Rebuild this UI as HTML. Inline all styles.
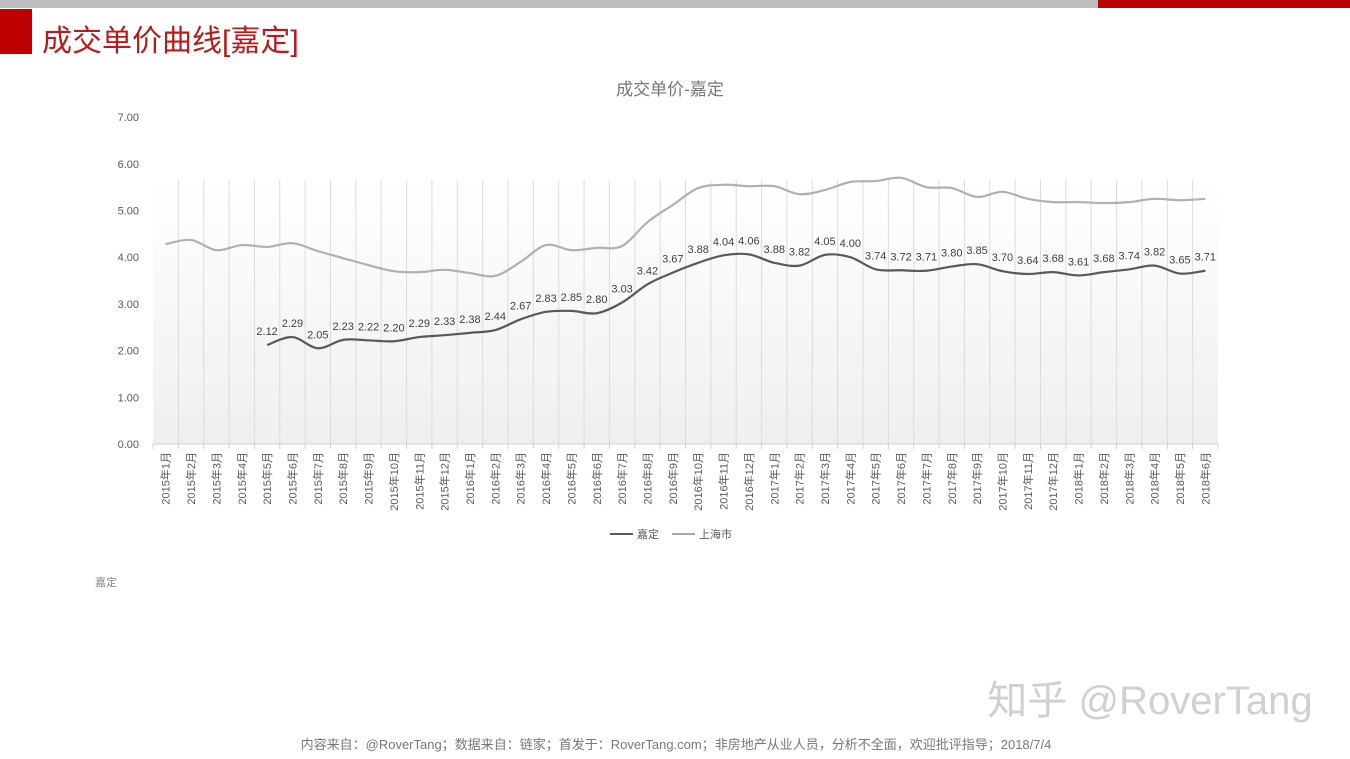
<!DOCTYPE html><html><head><meta charset="utf-8"><style>
body{margin:0;width:1350px;height:759px;overflow:hidden;background:#fff;font-family:"Liberation Sans","Noto Sans CJK SC",sans-serif}
</style></head><body>
<svg id="s" width="1350" height="759" xmlns="http://www.w3.org/2000/svg" style="position:absolute;left:0;top:0">
<defs><linearGradient id="g" x1="0" y1="0" x2="0" y2="1"><stop offset="0" stop-color="#fff"/><stop offset="1" stop-color="#efefef"/></linearGradient></defs>
<rect x="0" y="0" width="1350" height="8" fill="#bdbdbd"/>
<rect x="1098" y="0" width="252" height="8" fill="#c00000"/>
<rect x="0" y="9" width="32" height="45" fill="#c00000"/>
<text x="42" y="51" font-size="30" fill="#b71c1c" font-family="Liberation Sans,Noto Sans CJK SC,sans-serif">成交单价曲线[嘉定]</text>
<text x="670" y="95" font-size="17" fill="#777" text-anchor="middle" font-family="Liberation Sans,Noto Sans CJK SC,sans-serif">成交单价-嘉定</text>
<rect x="153" y="180" width="1065" height="264" fill="url(#g)"/>
<g id="grid"></g><g id="lines"></g>
<g font-size="12" fill="#595959" font-family="Liberation Sans,Noto Sans CJK SC,sans-serif">
<line x1="610" y1="534" x2="633" y2="534" stroke="#595959" stroke-width="2"/><text x="637" y="538" font-size="11">嘉定</text>
<line x1="672" y1="534" x2="695" y2="534" stroke="#aaa" stroke-width="2"/><text x="699" y="538" font-size="11">上海市</text>
<text x="95" y="586" font-size="11" fill="#888">嘉定</text>
</g>
<text x="1150" y="714" font-size="40" fill="#d0d0d0" text-anchor="middle" font-family="Liberation Sans,Noto Sans CJK SC,sans-serif">知乎 @RoverTang</text>
<text x="676" y="749" font-size="13" fill="#777" text-anchor="middle" font-family="Liberation Sans,Noto Sans CJK SC,sans-serif">内容来自：@RoverTang；数据来自：链家；首发于：RoverTang.com；非房地产从业人员，分析不全面，欢迎批评指导；2018/7/4</text>
</svg>
<script>
var NS="http://www.w3.org/2000/svg",s=document.getElementById('s');
function el(t,a,p,txt){var e=document.createElementNS(NS,t);for(var k in a)e.setAttribute(k,a[k]);if(txt!=null)e.textContent=txt;(p||s).appendChild(e);return e;}
var x0=153,W=1065,n=42,cw=W/n,y0=444,ppu=46.7;
function X(i){return x0+cw*(i+0.5)} function Y(v){return y0-v*ppu}
var grid=document.getElementById('grid'),lines=document.getElementById('lines');
for(var i=1;i<n;i++)el('line',{x1:x0+cw*i,x2:x0+cw*i,y1:180,y2:444,stroke:'#dcdcdc','stroke-width':1},grid);
el('line',{x1:x0,x2:x0+W,y1:444,y2:444,stroke:'#d0d0d0'},grid);
for(var i=0;i<=n;i++)el('line',{x1:x0+cw*i,x2:x0+cw*i,y1:444,y2:449,stroke:'#d0d0d0'},grid);
for(var v=0;v<=7;v++)el('text',{x:139,y:Y(v)+4,'font-size':11,fill:'#595959','text-anchor':'end'},grid,v.toFixed(2));
var ym=[];for(var yr=2015;yr<=2018;yr++)for(var m=1;m<=12;m++)if(ym.length<42)ym.push(yr+'年'+m+'月');
ym.forEach(function(t,i){var x=X(i)+4;el('text',{x:x,y:452,'font-size':11,fill:'#595959','text-anchor':'end',transform:'rotate(-90 '+x+' 452)'},grid,t);});
var sh=[4.28,4.37,4.15,4.26,4.22,4.30,4.13,3.98,3.83,3.70,3.68,3.73,3.66,3.60,3.90,4.26,4.15,4.20,4.24,4.75,5.12,5.48,5.55,5.52,5.52,5.35,5.44,5.61,5.63,5.70,5.50,5.48,5.29,5.40,5.25,5.18,5.18,5.16,5.18,5.25,5.22,5.25];
var jd=[2.12,2.29,2.05,2.23,2.22,2.20,2.29,2.33,2.38,2.44,2.67,2.83,2.85,2.80,3.03,3.42,3.67,3.88,4.04,4.06,3.88,3.82,4.05,4.00,3.74,3.72,3.71,3.80,3.85,3.70,3.64,3.68,3.61,3.68,3.74,3.82,3.65,3.71];
function path(pts){var d='M'+pts[0][0]+','+pts[0][1];for(var i=0;i<pts.length-1;i++){var p0=pts[i-1]||pts[i],p1=pts[i],p2=pts[i+1],p3=pts[i+2]||p2,t=6;
d+=' C'+(p1[0]+(p2[0]-p0[0])/t)+','+(p1[1]+(p2[1]-p0[1])/t)+' '+(p2[0]-(p3[0]-p1[0])/t)+','+(p2[1]-(p3[1]-p1[1])/t)+' '+p2[0]+','+p2[1];}return d;}
el('path',{d:path(sh.map(function(v,i){return[X(i),Y(v)]})),fill:'none',stroke:'#b0b0b0','stroke-width':2.2},lines);
var jp=jd.map(function(v,i){return[X(i+4),Y(v)]});
el('path',{d:path(jp),fill:'none',stroke:'#595959','stroke-width':2.2},lines);
jd.forEach(function(v,i){el('text',{x:X(i+4),y:Y(v)-10,'font-size':11,fill:'#404040','text-anchor':'middle'},lines,v.toFixed(2));});
</script>
</body></html>
